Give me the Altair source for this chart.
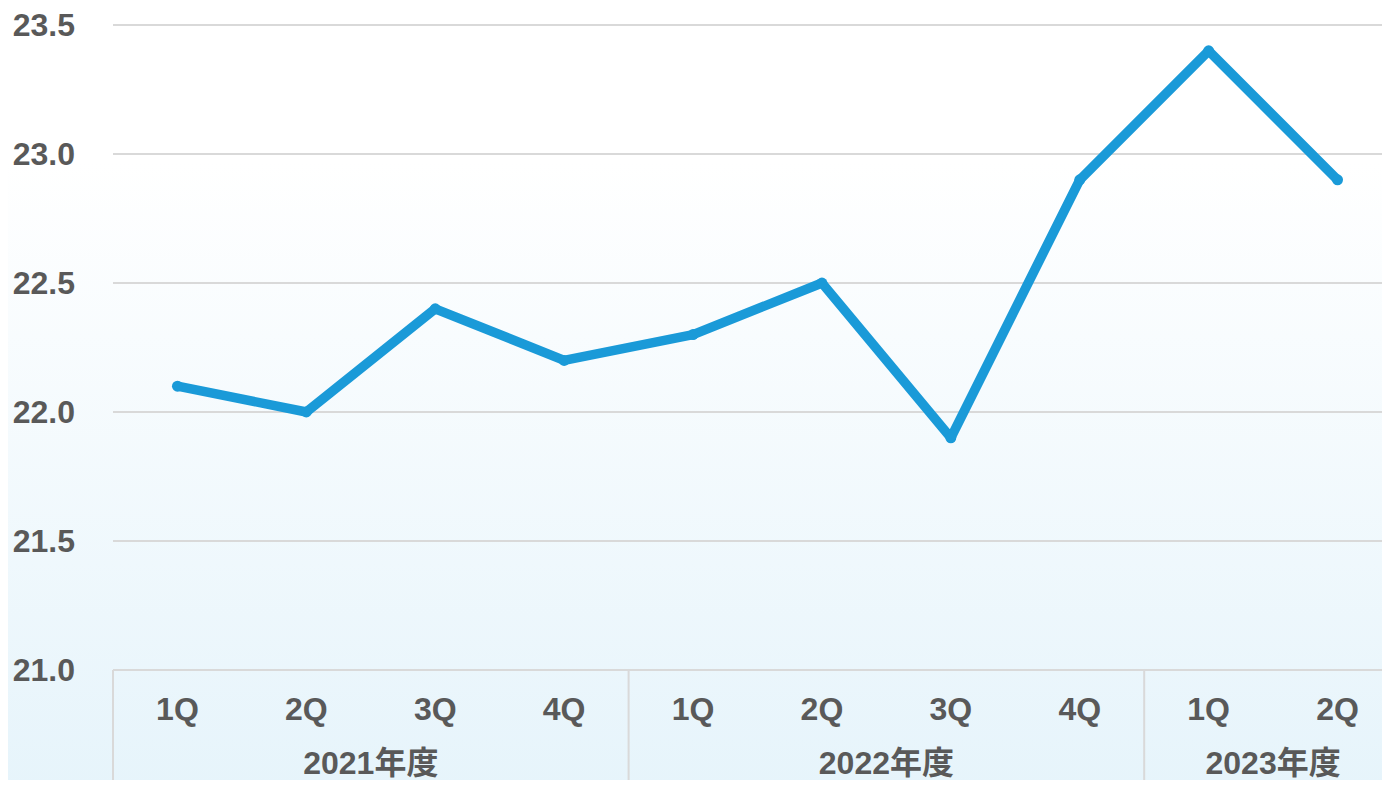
import altair as alt
import pandas as pd

years = ["2021年度"] * 4 + ["2022年度"] * 4 + ["2023年度"] * 2
quarters = ["1Q", "2Q", "3Q", "4Q", "1Q", "2Q", "3Q", "4Q", "1Q", "2Q"]
values = [22.1, 22.0, 22.4, 22.2, 22.3, 22.5, 21.9, 22.9, 23.4, 22.9]
y_ticks = [21.0, 21.5, 22.0, 22.5, 23.0, 23.5]

df = pd.DataFrame({"idx": list(range(len(values))), "year": years, "quarter": quarters, "value": values})
grp = df.groupby("year", sort=False)["idx"]
year_df = pd.DataFrame({
    "year": list(grp.mean().index),
    "center": list(grp.mean().values),
    "bound": list(grp.min().values - 0.5),
})
grid_df = pd.DataFrame({"v": y_ticks})
bg_df = pd.DataFrame({"a": [0]})

W, H = 1289, 645
FONT = "Liberation Sans, Arial, Noto Sans CJK JP"
LABEL_COLOR = "#595959"
LINE_COLOR = "#1a9ad8"
FS = 32

xscale = alt.Scale(domain=[-0.5, len(values) - 0.5], nice=False, zero=False)
yscale = alt.Scale(domain=[21.0, 23.5], nice=False, zero=False)

bg = alt.Chart(bg_df).mark_rect(
    color=alt.Gradient(
        gradient="linear",
        stops=[
            alt.GradientStop(offset=0, color="#ffffff"),
            alt.GradientStop(offset=0.2, color="#ffffff"),
            alt.GradientStop(offset=1, color="#e6f4fb"),
        ],
        x1=0, x2=0, y1=0, y2=1,
    )
).encode(x=alt.value(-110), x2=alt.value(W + 10), y=alt.value(-20), y2=alt.value(H + 120))

grid = alt.Chart(grid_df).mark_rule(color="#d9d9d9", strokeWidth=2).encode(
    y=alt.Y("v:Q", scale=yscale, axis=None),
    x=alt.value(0),
    x2=alt.value(W),
)

ylabels = alt.Chart(grid_df).mark_text(
    font=FONT, fontSize=FS, fontWeight="bold", color=LABEL_COLOR, baseline="middle", align="right", dy=1
).encode(
    y=alt.Y("v:Q", scale=yscale, axis=None),
    x=alt.value(-38),
    text=alt.Text("v:Q", format=".1f"),
)

seps = alt.Chart(year_df).mark_rule(color="#d9d9d9", strokeWidth=2).encode(
    x=alt.X("bound:Q", scale=xscale, axis=None),
    y=alt.value(H),
    y2=alt.value(H + 120),
)

line = alt.Chart(df).mark_line(color=LINE_COLOR, strokeWidth=9.5, strokeJoin="round").encode(
    x=alt.X("idx:Q", scale=xscale, axis=None),
    y=alt.Y("value:Q", scale=yscale, axis=None),
)

pts = alt.Chart(df).mark_circle(color=LINE_COLOR, size=120, opacity=1).encode(
    x=alt.X("idx:Q", scale=xscale, axis=None),
    y=alt.Y("value:Q", scale=yscale, axis=None),
)

qtext = alt.Chart(df).mark_text(
    font=FONT, fontSize=FS, fontWeight="bold", color=LABEL_COLOR, baseline="middle", align="center"
).encode(
    x=alt.X("idx:Q", scale=xscale, axis=None),
    y=alt.value(H + 40),
    text="quarter:N",
)

ytext = alt.Chart(year_df).mark_text(
    font=FONT, fontSize=FS, fontWeight="bold", color=LABEL_COLOR, baseline="middle", align="center"
).encode(
    x=alt.X("center:Q", scale=xscale, axis=None),
    y=alt.value(H + 94),
    text="year:N",
)

chart = alt.layer(bg, grid, ylabels, seps, line, pts, qtext, ytext).properties(
    width=W,
    height=H,
    autosize=alt.AutoSizeParams(type="none"),
    padding={"left": 105, "top": 17, "right": -20, "bottom": 110},
).configure_view(strokeWidth=0)

chart.save("out.html", embed_options={"renderer": "svg", "actions": False})
